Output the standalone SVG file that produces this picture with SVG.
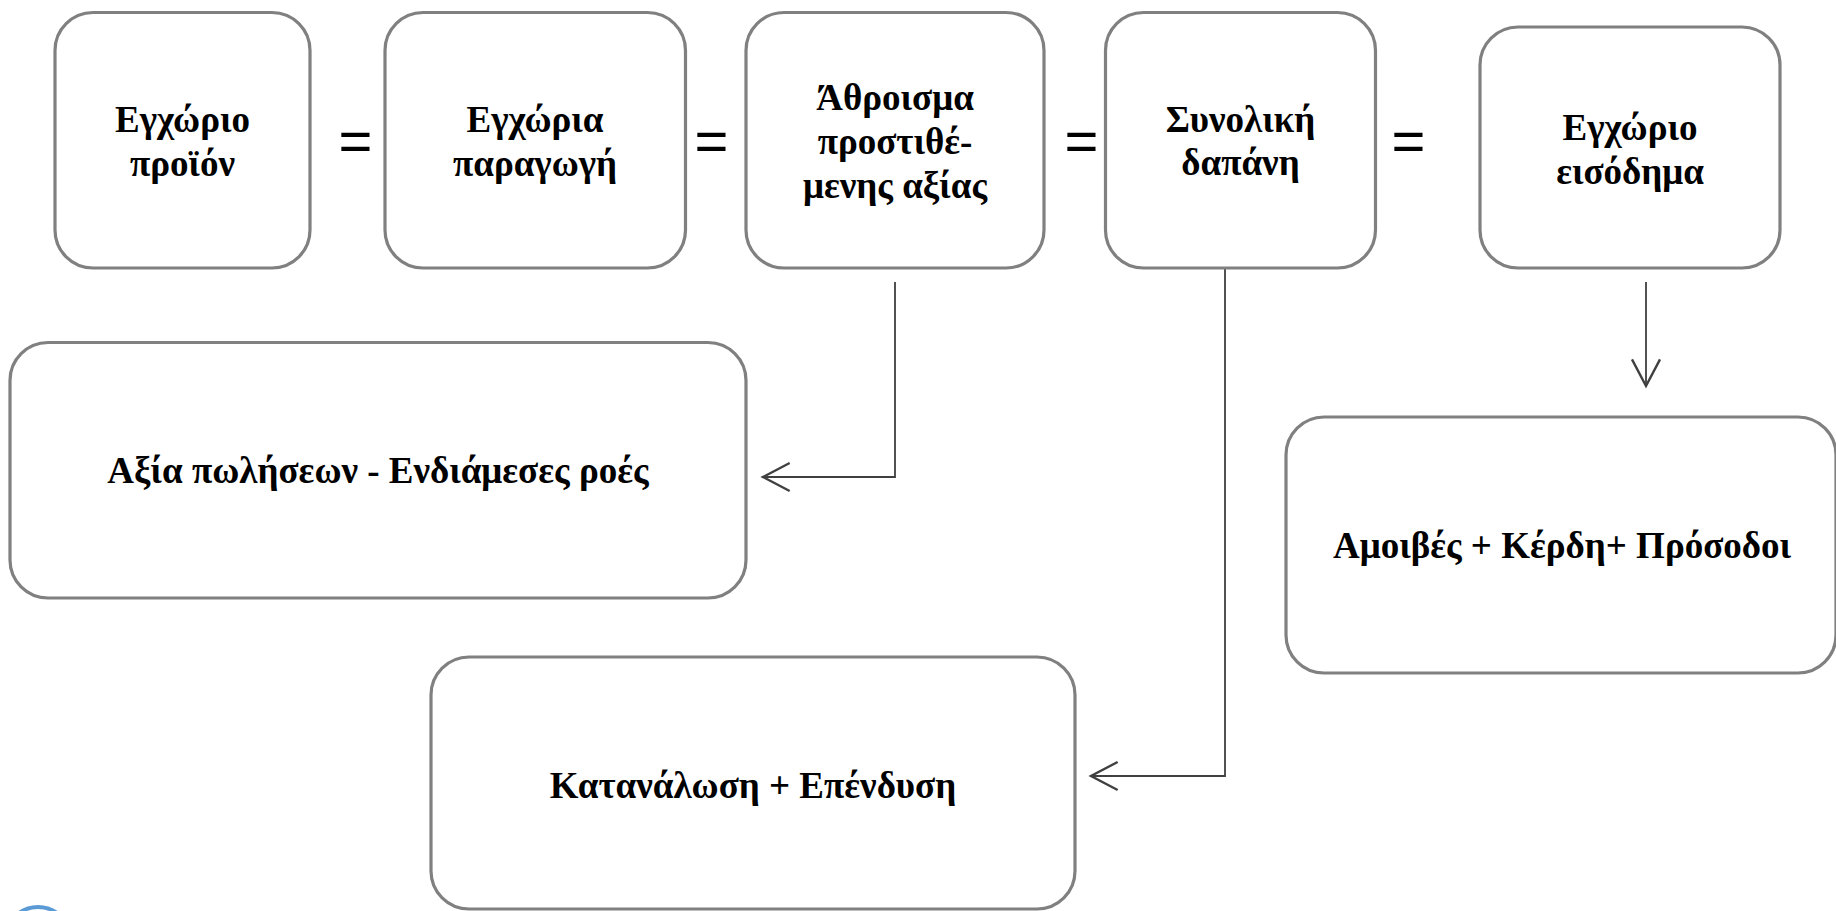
<svg xmlns="http://www.w3.org/2000/svg" width="1836" height="911" viewBox="0 0 1836 911">
<style>
.box{fill:#ffffff;stroke:#808080;stroke-width:3.2}
.t{font-family:"Liberation Serif","Times New Roman",serif;font-weight:bold;font-size:37px;fill:#000;text-anchor:middle}
.eq{font-family:"Liberation Sans",Arial,sans-serif;font-size:58px;fill:#000;text-anchor:middle}
.conn{fill:none;stroke:#404040;stroke-width:1.8}
</style>
<defs>
<marker id="arr" markerUnits="userSpaceOnUse" markerWidth="40" markerHeight="40" refX="0" refY="0" orient="auto" viewBox="-25 -15 30 30" overflow="visible">
<path d="M-20,-10.5 L0,0 L-20,10.5" fill="none" stroke="#404040" stroke-width="1.8"/>
</marker>
</defs>
<rect width="1836" height="911" fill="#ffffff"/>
<g id="connectors">
<path class="conn" d="M895,282 L895,477 L763,477" marker-end="url(#arr)"/>
<path class="conn" d="M1225,268 L1225,776 L1091,776" marker-end="url(#arr)"/>
<path class="conn" d="M1646,282 L1646,386" marker-end="url(#arr)"/>
</g>
<g id="node-egxorio-proion">
<rect class="box" x="55" y="12.5" width="255" height="255.5" rx="38"/>
<text class="t" x="182.5" y="132">Εγχώριο</text>
<text class="t" x="182.5" y="176">προϊόν</text>
</g>
<g id="node-egxoria-paragogi">
<rect class="box" x="385" y="12.5" width="300.5" height="255.5" rx="38"/>
<text class="t" x="535" y="132">Εγχώρια</text>
<text class="t" x="535" y="176">παραγωγή</text>
</g>
<g id="node-athroisma">
<rect class="box" x="746" y="12.5" width="298" height="255.5" rx="38"/>
<text class="t" x="895" y="110">Άθροισμα</text>
<text class="t" x="895" y="154">προστιθέ-</text>
<text class="t" x="895" y="198">μενης αξίας</text>
</g>
<g id="node-synoliki-dapani">
<rect class="box" x="1105.5" y="12.5" width="270" height="255.5" rx="38"/>
<text class="t" x="1240.5" y="132">Συνολική</text>
<text class="t" x="1240.5" y="175">δαπάνη</text>
</g>
<g id="node-egxorio-eisodima">
<rect class="box" x="1480" y="27" width="300" height="241" rx="38"/>
<text class="t" x="1630" y="140">Εγχώριο</text>
<text class="t" x="1630" y="184">εισόδημα</text>
</g>
<g id="equals">
<text class="eq" x="355.5" y="161">=</text>
<text class="eq" x="711.5" y="161">=</text>
<text class="eq" x="1081.5" y="161">=</text>
<text class="eq" x="1408.5" y="161">=</text>
</g>
<g id="node-axia-poliseon">
<rect class="box" x="10" y="342.5" width="736" height="255.5" rx="38"/>
<text class="t" x="378" y="483">Αξία πωλήσεων - Ενδιάμεσες ροές</text>
</g>
<g id="node-amoives">
<rect class="box" x="1286" y="417" width="550" height="256" rx="38"/>
<text class="t" x="1562" y="558">Αμοιβές + Κέρδη+ Πρόσοδοι</text>
</g>
<g id="node-katanalosi">
<rect class="box" x="431" y="657" width="644" height="252" rx="38"/>
<text class="t" x="753" y="798">Κατανάλωση + Επένδυση</text>
</g>
<circle cx="38" cy="940" r="33" fill="none" stroke="#5b9bd5" stroke-width="4"/>
</svg>
